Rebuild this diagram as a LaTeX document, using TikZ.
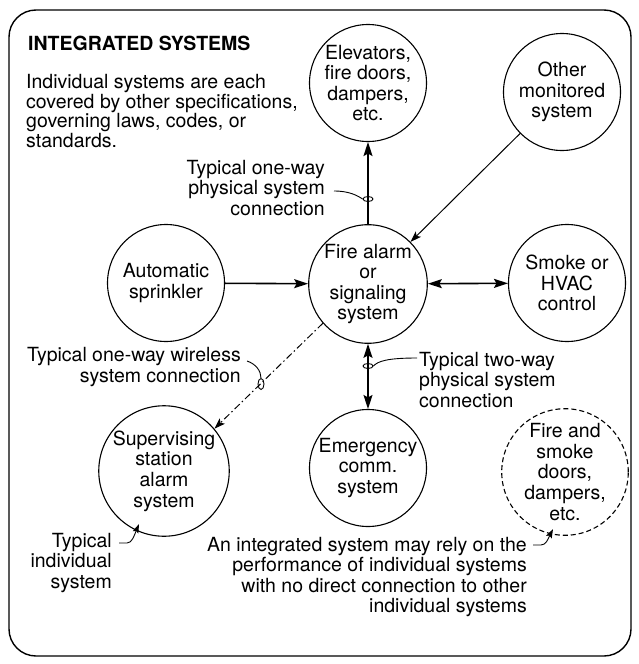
\documentclass[tikz,border=0pt]{standalone}
\usepackage{fontspec}
\setmainfont{TeX Gyre Heros}
\usetikzlibrary{arrows.meta,shapes.geometric}
\begin{document}
\begin{tikzpicture}[x=1pt,y=-1pt,
  txt/.style={font=\fontsize{19.5}{20.6}\selectfont, inner sep=0pt},
  sys/.style={txt, draw, circle, line width=1.1pt, minimum size=117pt, align=center},
  dsys/.style={sys, dash pattern=on 5pt off 3pt},
  conn/.style={line width=1.6pt},
  thinconn/.style={line width=1pt},
  leader/.style={line width=0.9pt},
  tag/.style={draw, ellipse, line width=0.9pt, inner sep=0pt, minimum width=10pt, minimum height=5pt},
  bigtip/.tip={Stealth[length=14pt,width=9pt,inset=2.5pt]},
  midtip/.tip={Stealth[length=11pt,width=7.5pt,inset=2.5pt]},
  smalltip/.tip={Stealth[length=9pt,width=6pt,inset=1.5pt]}
]
\useasboundingbox (0,0) rectangle (639,664);
\node[draw, line width=1.4pt, rounded corners=27pt, minimum width=622pt, minimum height=646pt, inner sep=0pt] (frame) at (320,333) {};

\node[txt, anchor=west, font=\fontsize{19.5}{21}\selectfont\bfseries] (title) at (28,43) {INTEGRATED SYSTEMS};
\node[txt, anchor=west, align=left, font=\fontsize{19.5}{19.5}\selectfont] (intro) at (26,111) {Individual systems are each\\covered by other specifications,\\governing laws, codes, or\\standards.};

\node[sys] (elev) at (368,83) {Elevators,\\fire doors,\\dampers,\\etc.};
\node[sys] (other) at (562,92) {Other\\monitored\\system};
\node[sys] (sprk) at (166,283) {Automatic\\sprinkler};
\node[sys] (fire) at (368,284) {Fire alarm\\or\\signaling\\system};
\node[sys] (smoke) at (567,283) {Smoke or\\HVAC\\control};
\node[sys] (sup) at (164,471) {Supervising\\station\\alarm\\system};
\node[sys] (emer) at (368,468) {Emergency\\comm.\\system};
\node[dsys] (fsd) at (565,472) {Fire and\\smoke\\doors,\\dampers,\\etc.};

\draw[conn, -bigtip] (fire) -- (elev);
\draw[conn, -bigtip] (sprk) -- (fire);
\draw[conn, bigtip-bigtip] (fire) -- (smoke);
\draw[conn, bigtip-bigtip] (fire) -- (emer);
\draw[thinconn, -midtip] (other) -- (fire);
\draw[thinconn, dash pattern=on 7pt off 3pt on 1.5pt off 3pt, -midtip] (fire.221) -- (sup.40);

\node[tag] (e1) at (368,199) {};
\node[tag] (e2) at (368,366) {};
\node[tag, minimum width=6pt, minimum height=11pt] (e3) at (261,384) {};

\node[txt, anchor=east, align=right] (lbl1) at (325,188) {Typical one-way\\physical system\\connection};
\node[txt, anchor=east, align=right] (lbl2) at (241,367) {Typical one-way wireless\\system connection};
\node[txt, anchor=west, align=left] (lbl3) at (419,380) {Typical two-way\\physical system\\connection};
\node[txt, anchor=east, align=right] (lbl4) at (112,563) {Typical\\individual\\system};
\node[txt, anchor=east, align=right] (lbl5) at (527,577) {An integrated system may rely on the\\performance of individual systems\\with no direct connection to other\\individual systems};

\coordinate (l1s) at (334,191);
\coordinate (l2s) at (247,361);
\coordinate (l3s) at (417,358);
\coordinate (l4s) at (119,543);
\coordinate (l4e) at (139,524);
\coordinate (l5s) at (533,545);
\coordinate (l5e) at (553,529);

\draw[leader] (l1s) .. controls (350,191) and (358,196) .. (e1.west);
\draw[leader] (l2s) .. controls (256,364) and (261,371) .. (e3.north);
\draw[leader] (l3s) .. controls (388,358) and (378,361) .. (e2.east);
\draw[leader, -smalltip] (l4s) -- (127,543) .. controls (132,543) and (134,536) .. (l4e);
\draw[leader, -smalltip] (l5s) -- (541,545) .. controls (546,545) and (548,539) .. (l5e);
\end{tikzpicture}
\end{document}
